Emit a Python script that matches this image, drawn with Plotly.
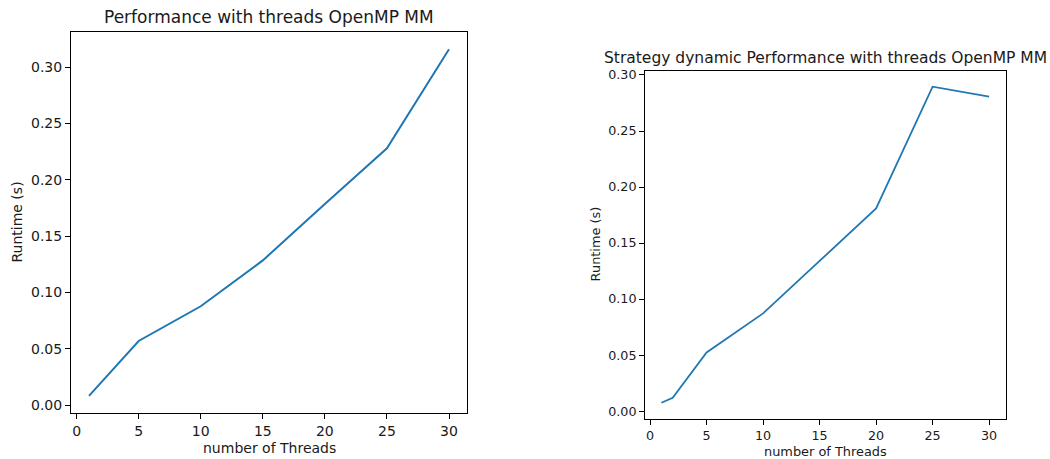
import plotly.graph_objects as go

# Data
threads_left = [1, 5, 10, 15, 20, 25, 30]
runtime_left = [0.0082, 0.057, 0.0878, 0.1285, 0.1785, 0.228, 0.316]

threads_right = [1, 2, 5, 10, 15, 20, 25, 30]
runtime_right = [0.0074, 0.0118, 0.0523, 0.0872, 0.134, 0.1809, 0.2896, 0.2807]

title_left = "Performance with threads OpenMP MM"
title_right = "Strategy dynamic Performance with threads OpenMP MM"
xlabel = "number of Threads"
ylabel = "Runtime (s)"

W, H = 1050, 459
FONT = "DejaVu Sans"
TXT = "#1a1a1a"
LINE = "#1f77b4"

def px_x(p):
    return p / W

def px_y(p):
    return 1 - p / H

fig = go.Figure()
fig.add_trace(go.Scatter(x=threads_left, y=runtime_left, mode="lines",
                         line=dict(color=LINE, width=2), xaxis="x", yaxis="y",
                         showlegend=False, hoverinfo="skip"))
fig.add_trace(go.Scatter(x=threads_right, y=runtime_right, mode="lines",
                         line=dict(color=LINE, width=1.8), xaxis="x2", yaxis="y2",
                         showlegend=False, hoverinfo="skip"))

def axis_common(size):
    return dict(showgrid=False, zeroline=False, showline=True, linecolor="black",
                linewidth=1, mirror=True, ticks="outside", ticklen=5, tickwidth=1,
                tickcolor="black", tickfont=dict(family=FONT, size=size, color=TXT))

xl = axis_common(14)
xl.update(domain=[px_x(71), px_x(467)], range=[-0.45, 31.45], tick0=0, dtick=5,
          anchor="y")
yl = axis_common(14)
yl.update(domain=[px_y(413), px_y(29)], range=[-0.0072, 0.3314], tick0=0, dtick=0.05,
          tickformat=".2f", anchor="x")
xr = axis_common(12.7)
xr.update(domain=[px_x(645), px_x(1005.5)], range=[-0.45, 31.45], tick0=0, dtick=5,
          anchor="y2")
yr = axis_common(12.7)
yr.update(domain=[px_y(418.3), px_y(68.3)], range=[-0.0067, 0.3037], tick0=0,
          dtick=0.05, tickformat=".2f", anchor="x2")

annotations = [
    dict(text=title_left, x=px_x(269), y=px_y(14), xref="paper", yref="paper",
         showarrow=False, xanchor="center", yanchor="middle",
         font=dict(family=FONT, size=17, color=TXT)),
    dict(text=title_right, x=px_x(825), y=px_y(55), xref="paper", yref="paper",
         showarrow=False, xanchor="center", yanchor="middle",
         font=dict(family=FONT, size=15.5, color=TXT)),
    dict(text=xlabel, x=px_x(269), y=px_y(448), xref="paper", yref="paper",
         showarrow=False, xanchor="center", yanchor="middle",
         font=dict(family=FONT, size=14, color=TXT)),
    dict(text=xlabel, x=px_x(825), y=px_y(451), xref="paper", yref="paper",
         showarrow=False, xanchor="center", yanchor="middle",
         font=dict(family=FONT, size=12.9, color=TXT)),
    dict(text=ylabel, x=px_x(17), y=px_y(221), xref="paper", yref="paper",
         showarrow=False, xanchor="center", yanchor="middle", textangle=-90,
         font=dict(family=FONT, size=14, color=TXT)),
    dict(text=ylabel, x=px_x(595), y=px_y(243), xref="paper", yref="paper",
         showarrow=False, xanchor="center", yanchor="middle", textangle=-90,
         font=dict(family=FONT, size=12.9, color=TXT)),
]

fig.update_layout(
    width=W, height=H,
    margin=dict(l=0, r=0, t=0, b=0),
    paper_bgcolor="white", plot_bgcolor="white",
    xaxis=xl, yaxis=yl, xaxis2=xr, yaxis2=yr,
    annotations=annotations,
    font=dict(family=FONT, color=TXT),
)

fig.write_html("out.html",
               config={"displayModeBar": False, "staticPlot": True},
               post_script="document.body.style.margin='0';document.body.style.overflow='hidden';")
